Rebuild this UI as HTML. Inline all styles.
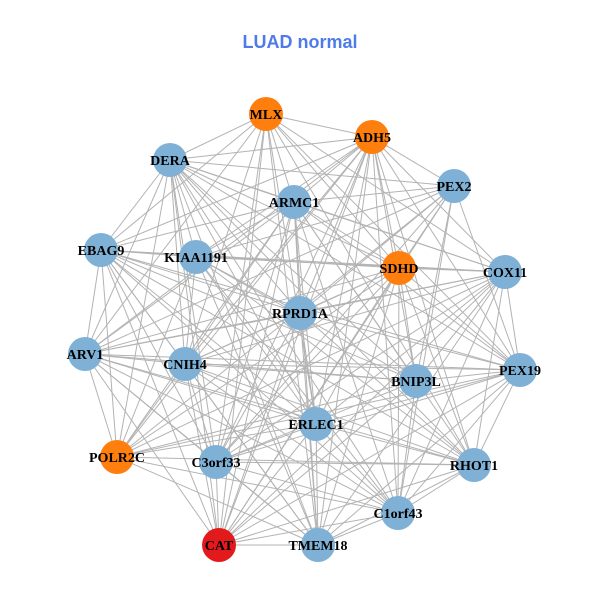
<!DOCTYPE html>
<html><head><meta charset="utf-8"><style>
html,body{margin:0;padding:0;background:#fff;}
</style></head><body>
<svg id="g" width="600" height="600" xmlns="http://www.w3.org/2000/svg">
<rect width="600" height="600" fill="#fff"/>
<text x="300" y="48" text-anchor="middle" font-family="Liberation Sans, sans-serif" font-weight="bold" font-size="18" fill="#4f7bea">LUAD normal</text>
<g id="edges" stroke="#b3b3b3" stroke-width="1"></g>
<g id="nodes"></g>
</svg>
<script>
var N=[
["MLX",266,114,"#ff7f0e"],["ADH5",372,137,"#ff7f0e"],["DERA",170,160,"#7fb0d6"],["PEX2",454,186,"#7fb0d6"],
["ARMC1",294,202,"#7fb0d6"],["EBAG9",101,250,"#7fb0d6"],["KIAA1191",196,257,"#7fb0d6"],["SDHD",399,268,"#ff7f0e"],
["COX11",505,272,"#7fb0d6"],["RPRD1A",300,313,"#7fb0d6"],["ARV1",85,354,"#7fb0d6"],["CNIH4",185,364,"#7fb0d6"],
["BNIP3L",416,381,"#7fb0d6"],["PEX19",520,370,"#7fb0d6"],["ERLEC1",316,424,"#7fb0d6"],["POLR2C",117,457,"#ff7f0e"],
["C3orf33",216,462,"#7fb0d6"],["RHOT1",474,465,"#7fb0d6"],["C1orf43",398,513,"#7fb0d6"],["CAT",219,545,"#e31a1c"],
["TMEM18",318,545,"#7fb0d6"]];
var ns="http://www.w3.org/2000/svg",E=document.getElementById("edges"),G=document.getElementById("nodes");
for(var i=0;i<N.length;i++)for(var j=i+1;j<N.length;j++){
 if((i*7+j*3)%9==0)continue;
 var l=document.createElementNS(ns,"line");
 l.setAttribute("x1",N[i][1]);l.setAttribute("y1",N[i][2]);l.setAttribute("x2",N[j][1]);l.setAttribute("y2",N[j][2]);E.appendChild(l);}
N.forEach(function(n){
 var c=document.createElementNS(ns,"circle");c.setAttribute("cx",n[1]);c.setAttribute("cy",n[2]);c.setAttribute("r",17);c.setAttribute("fill",n[3]);G.appendChild(c);});
N.forEach(function(n){
 var t=document.createElementNS(ns,"text");t.setAttribute("x",n[1]);t.setAttribute("y",n[2]+5);t.setAttribute("text-anchor","middle");
 t.setAttribute("font-family","Liberation Serif, serif");t.setAttribute("font-weight","bold");t.setAttribute("font-size","14");t.setAttribute("fill","#000");
 t.textContent=n[0];G.appendChild(t);});
</script>
</body></html>
